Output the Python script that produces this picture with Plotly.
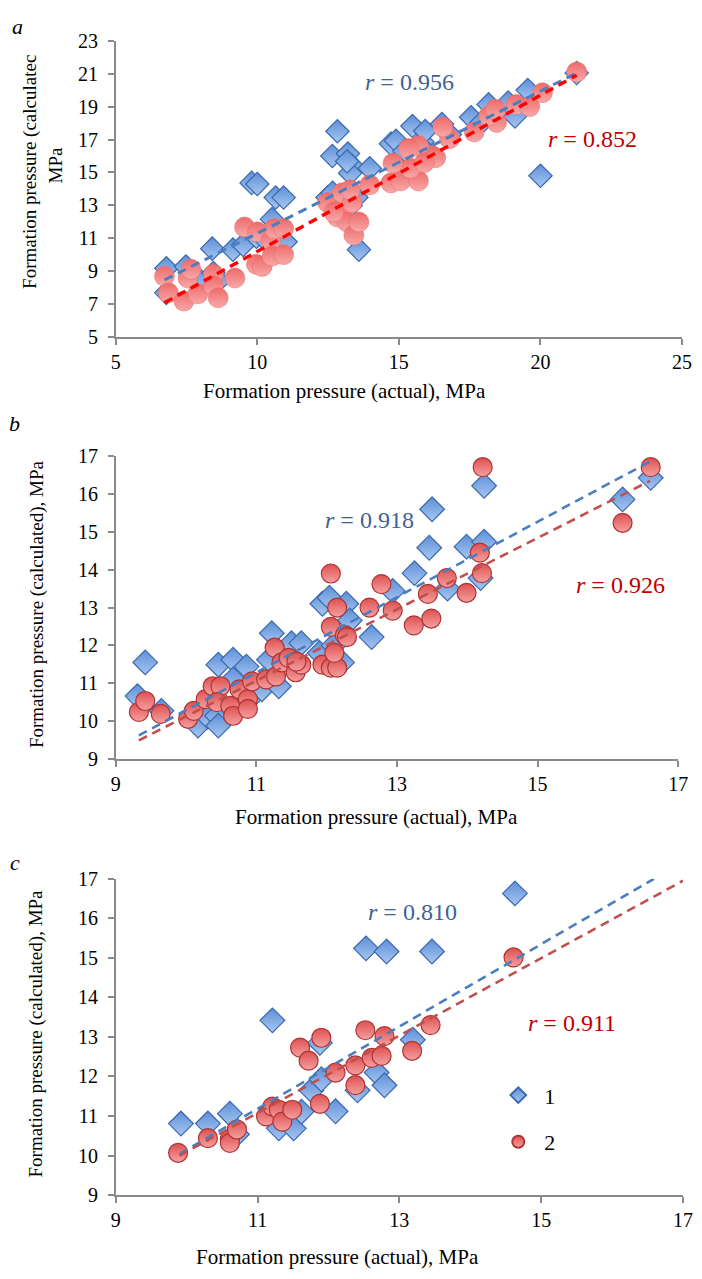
import plotly.graph_objects as go

# The page adds an 8px body margin, so the figure is 16px smaller than the window.
PAGE_W, PAGE_H = 702, 1279
OFF = 8
W, H = PAGE_W - 2 * OFF, PAGE_H - 2 * OFF

# ---------------- data ----------------
a_blue_x = [6.79, 6.79, 7.48, 7.93, 8.41, 8.45, 8.62, 9.14, 9.5, 9.8, 10.0, 9.97, 10.3, 10.52, 10.65, 10.93, 11.0,
            12.48, 12.66, 12.65, 12.83, 13.2, 13.35, 13.28, 13.17, 13.97, 13.59, 13.3, 13.5, 14.72, 14.9, 15.48, 15.83,
            15.93, 16.52, 17.55, 18.17, 18.86, 19.1, 19.55, 20.0, 21.28, 15.2, 16.0, 15.0, 16.8, 17.9]
a_blue_y = [9.19, 7.7, 9.3, 8.54, 10.38, 8.9, 8.42, 10.32, 10.6, 14.37, 14.3, 11.1, 10.9, 12.17, 13.48, 13.48, 10.8,
            13.48, 13.77, 16.0, 17.5, 16.15, 15.4, 14.96, 15.68, 15.26, 10.32, 13.0, 13.5, 16.75, 16.93, 17.82, 16.87,
            17.52, 17.94, 18.35, 19.13, 19.25, 18.4, 20.0, 14.8, 21.04, 16.3, 16.2, 15.3, 17.3, 18.0]
a_red_x = [6.72, 6.86, 7.41, 7.55, 7.66, 7.9, 8.45, 8.45, 8.62, 9.21, 9.55, 10.0, 9.97, 10.17, 10.48, 10.59, 10.93,
           10.52, 10.93, 12.48, 13.0, 12.83, 13.17, 13.41, 13.59, 13.0, 13.35, 13.28, 13.97, 14.72, 15.07, 15.69,
           15.41, 14.79, 16.17, 15.69, 15.34, 16.79, 16.55, 17.66, 18.45, 18.17, 18.41, 19.14, 19.62, 20.07, 21.28,
           16.3, 15.9, 12.7]
a_red_y = [8.71, 7.7, 7.2, 8.6, 9.13, 7.64, 8.83, 8.12, 7.4, 8.6, 11.69, 11.4, 9.43, 9.3, 10.9, 11.6, 11.6,
           9.93, 10.02, 13.18, 12.88, 12.3, 12.0, 11.2, 12.0, 13.77, 13.18, 13.95, 14.25, 14.37, 14.5, 14.49,
           15.26, 15.56, 16.03, 16.63, 16.45, 17.05, 17.76, 17.46, 18.04, 18.42, 18.83, 19.13, 19.0, 19.84, 21.1,
           15.9, 15.6, 12.6]

b_blue_x = [9.31, 9.42, 9.65, 10.17, 10.31, 10.44, 10.46, 10.46, 10.67, 10.86, 10.67, 10.94, 11.08, 11.18, 11.22,
            11.32, 11.5, 11.64, 11.94, 12.04, 12.28, 12.22, 12.33, 12.64, 12.94, 13.25, 13.46, 13.5, 13.72, 13.99,
            14.19, 14.24, 14.24, 16.21, 16.61, 10.75, 11.9, 12.1]
b_blue_y = [10.66, 11.55, 10.27, 9.88, 10.12, 10.14, 9.88, 11.49, 11.62, 11.44, 11.1, 10.66, 10.84, 11.62, 12.32,
            10.92, 12.06, 12.06, 13.1, 13.26, 13.1, 11.55, 12.66, 12.22, 13.44, 13.91, 14.58, 15.6, 13.5, 14.61,
            13.78, 14.74, 16.22, 15.86, 16.43, 10.5, 11.8, 12.0]
b_red_x = [9.33, 9.42, 9.64, 10.03, 10.11, 10.28, 10.38, 10.49, 10.44, 10.63, 10.67, 10.76, 10.88, 10.88, 10.94,
           11.14, 11.26, 11.28, 11.36, 11.46, 11.56, 11.64, 11.57, 11.94, 12.06, 12.15, 12.11, 12.06, 12.15, 12.06,
           12.26, 12.29, 12.61, 12.78, 12.94, 13.24, 13.49, 13.44, 13.71, 13.99, 14.18, 14.21, 14.22, 16.21, 16.61]
b_red_y = [10.24, 10.53, 10.19, 10.06, 10.27, 10.58, 10.92, 10.92, 10.5, 10.4, 10.14, 10.84, 10.58, 10.32, 11.05,
           11.1, 11.94, 11.18, 11.55, 11.67, 11.29, 11.49, 11.57, 11.49, 11.41, 11.41, 11.8, 12.49, 13.0, 13.9,
           12.27, 12.22, 13.0, 13.62, 12.92, 12.53, 12.71, 13.36, 13.78, 13.39, 14.45, 13.91, 16.71, 15.24, 16.71]

c_blue_x = [9.92, 10.3, 10.61, 10.71, 11.21, 11.3, 11.51, 11.62, 11.76, 11.9, 11.88, 12.1, 12.41, 12.68, 12.79,
            13.19, 12.53, 12.82, 13.46, 14.63]
c_blue_y = [10.81, 10.81, 11.06, 10.54, 13.42, 10.69, 10.69, 11.11, 11.65, 11.93, 12.85, 11.12, 11.65, 12.1, 11.78,
            12.93, 15.24, 15.16, 15.16, 16.63]
c_red_x = [9.88, 10.3, 10.61, 10.61, 10.71, 11.12, 11.21, 11.3, 11.35, 11.49, 11.6, 11.72, 11.88, 11.9, 12.1,
           12.38, 12.38, 12.52, 12.61, 12.75, 12.79, 13.18, 13.44, 14.61]
c_red_y = [10.07, 10.44, 10.41, 10.32, 10.66, 10.99, 11.24, 11.16, 10.86, 11.16, 12.73, 12.4, 11.31, 12.98, 12.1,
           12.28, 11.78, 13.17, 12.47, 12.52, 13.02, 12.65, 13.3, 15.01]

# trend lines (end points)
a_blue_trend_x, a_blue_trend_y = [6.72, 21.28], [8.48, 21.04]
a_red_trend_x, a_red_trend_y = [6.72, 21.28], [7.10, 20.90]
b_blue_trend_x, b_blue_trend_y = [9.33, 16.64], [9.62, 16.90]
b_red_trend_x, b_red_trend_y = [9.33, 16.60], [9.49, 16.35]
c_blue_trend_x, c_blue_trend_y = [9.90, 16.59], [10.04, 17.00]
c_red_trend_x, c_red_trend_y = [9.90, 17.00], [10.00, 16.95]

r_labels = ["0.956", "0.852", "0.918", "0.926", "0.810", "0.911"]
panel_letters = ["a", "b", "c"]
legend_names = ["1", "2"]
x_title = "Formation pressure (actual), MPa"
y_title = "Formation pressure (calculated), MPa"

# ---------------- style ----------------
FONT = "Liberation Serif"
BLUE_EDGE = "#3b69ad"
BLUE_FILL = "#5c8fd8"
BLUE_GRAD = "#a9c7f1"
RED_FILL = "#de5050"
RED_GRAD = "#f6a0a0"
RED_EDGE = "#ad3434"
PINK_FILL = "#ee6a6a"
PINK_GRAD = "#f8a9a9"
AX = "#8a8a8a"


def px(x):
    return (x - OFF) / W


def py(y):
    return 1 - (y - OFF) / H


# plot areas in page pixels: (left, right, top, bottom)
areas = [(113, 692, 30, 332), (113, 688, 453, 761), (113, 693, 883, 1205)]
ranges = [([5, 25], 5, [5, 23], 2), ([9, 17], 2, [9, 17], 1), ([9, 17], 2, [9, 17], 1)]

fig = go.Figure()

panels = [
    (a_blue_x, a_blue_y, a_red_x, a_red_y, a_blue_trend_x, a_blue_trend_y, a_red_trend_x, a_red_trend_y),
    (b_blue_x, b_blue_y, b_red_x, b_red_y, b_blue_trend_x, b_blue_trend_y, b_red_trend_x, b_red_trend_y),
    (c_blue_x, c_blue_y, c_red_x, c_red_y, c_blue_trend_x, c_blue_trend_y, c_red_trend_x, c_red_trend_y),
]

for i, (bx, by, rx, ry, btx, bty, rtx, rty) in enumerate(panels):
    xa = "x" if i == 0 else f"x{i+1}"
    ya = "y" if i == 0 else f"y{i+1}"
    last = i == 2
    fig.add_trace(go.Scatter(
        x=bx, y=by, mode="markers", xaxis=xa, yaxis=ya,
        name=legend_names[0], showlegend=last, legendgroup="g1",
        marker=dict(symbol="diamond", size=18 if i == 0 else 19, color=BLUE_FILL,
                    gradient=dict(type="vertical", color=BLUE_GRAD),
                    line=dict(color=BLUE_EDGE, width=1.2)),
    ))
    if i == 0:
        rmarker = dict(symbol="circle", size=20, color=PINK_FILL,
                       gradient=dict(type="vertical", color=PINK_GRAD),
                       line=dict(color="#ea6666", width=0.5))
    else:
        rmarker = dict(symbol="circle", size=19, color=RED_FILL,
                       gradient=dict(type="vertical", color=RED_GRAD),
                       line=dict(color=RED_EDGE, width=1.2))
    fig.add_trace(go.Scatter(
        x=rx, y=ry, mode="markers", xaxis=xa, yaxis=ya,
        name=legend_names[1], showlegend=last, legendgroup="g2", marker=rmarker,
    ))
    fig.add_trace(go.Scatter(
        x=btx, y=bty, mode="lines", xaxis=xa, yaxis=ya, showlegend=False,
        line=dict(color="#4a7ebf", width=3 if i == 0 else 2.6, dash="9px,6px"),
    ))
    fig.add_trace(go.Scatter(
        x=rtx, y=rty, mode="lines", xaxis=xa, yaxis=ya, showlegend=False,
        line=dict(color="#ff0000" if i == 0 else "#c0504d", width=3.4 if i == 0 else 2.6, dash="9px,6px"),
    ))

layout = dict(
    width=W, height=H, margin=dict(l=0, r=0, t=0, b=0),
    paper_bgcolor="white", plot_bgcolor="white",
    font=dict(family=FONT, color="black", size=19),
    showlegend=True,
    legend=dict(x=px(498), y=py(1082), xanchor="left", yanchor="top",
                font=dict(family=FONT, size=22), bgcolor="rgba(0,0,0,0)",
                tracegroupgap=15, itemwidth=42, itemsizing="constant", traceorder="grouped"),
)

for i, (l, r, t, b) in enumerate(areas):
    xr, xd, yr, yd = ranges[i]
    sx = "" if i == 0 else str(i + 1)
    common = dict(showline=True, linecolor=AX, linewidth=1.6, ticks="outside", ticklen=6, tickcolor=AX,
                  tickwidth=1.6, showgrid=False, zeroline=False, ticklabeloverflow="allow",
                  tickfont=dict(family=FONT, size=20, color="black"))
    layout[f"xaxis{sx}"] = dict(domain=[px(l), px(r)], range=xr, dtick=xd, tick0=xr[0],
                                anchor=f"y{sx}", **common)
    layout[f"yaxis{sx}"] = dict(domain=[py(b), py(t)], range=yr, dtick=yd, tick0=yr[0],
                                anchor=f"x{sx}", ticklabelstandoff=6, **common)

fig.update_layout(**layout)

BLUE_TXT = "#3f6196"
RED_TXT = "#c00000"
anns = []


def ann(text, x, y, size=19, color="black", angle=0, xanchor="center"):
    anns.append(dict(text=text, x=px(x), y=py(y), xref="paper", yref="paper", showarrow=False,
                     font=dict(family=FONT, size=size, color=color), textangle=angle,
                     xanchor=xanchor, yanchor="middle"))


# panel letters
ann(f"<i>{panel_letters[0]}</i>", 13, 16, size=22)
ann(f"<i>{panel_letters[1]}</i>", 10, 420, size=22)
ann(f"<i>{panel_letters[2]}</i>", 10, 866, size=22)

# r labels
r_pos = [(413, 72, BLUE_TXT), (600, 130, RED_TXT), (372, 518, BLUE_TXT), (629, 584, RED_TXT),
         (416, 917, BLUE_TXT), (580, 1030, RED_TXT)]
for lab, (x, y, c) in zip(r_labels, r_pos):
    ann(f"<i>r</i> = {lab}", x, y, size=24, color=c)

# axis titles
ann(x_title, 347, 387, size=21)
ann(x_title, 380, 820, size=21)
ann(x_title, 340, 1268, size=21)
ann("Formation pressure (calculatec", 26, 164, size=19, angle=-90)
ann("MPa", 51, 157, size=19, angle=-90)
ann(y_title, 32, 603, size=19, angle=-90)
ann(y_title, 32, 1040, size=19, angle=-90)

fig.update_layout(annotations=anns)
fig.write_html("out.html")
